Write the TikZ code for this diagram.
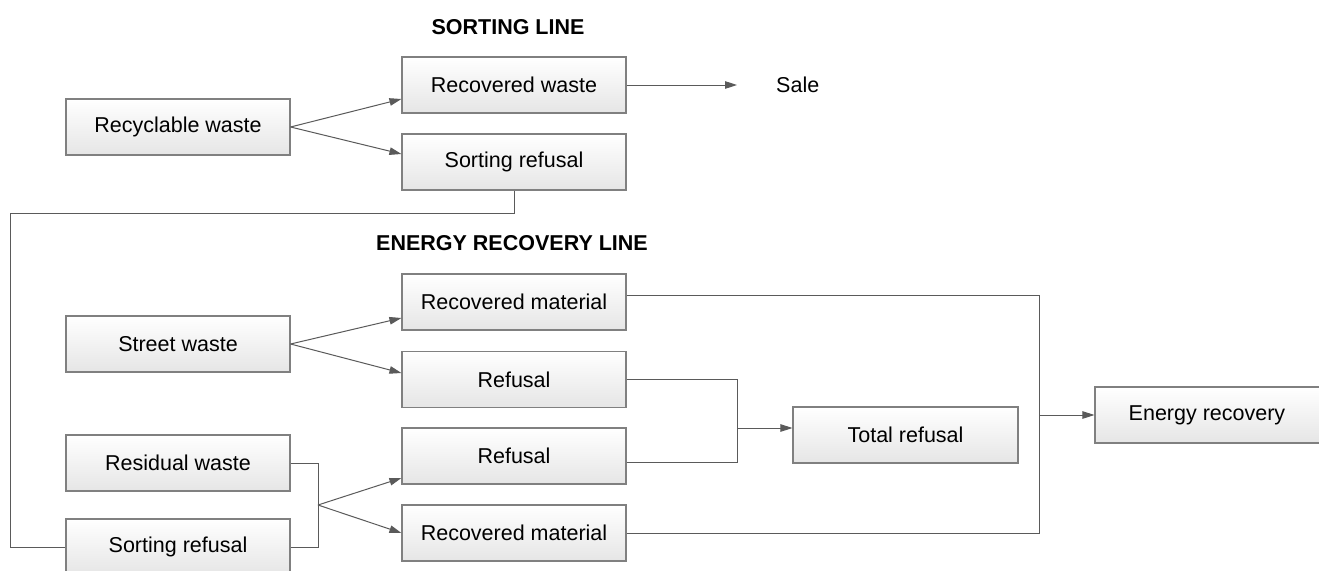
\documentclass[tikz,border=0pt]{standalone}
\usepackage{fontspec}
\setmainfont{Liberation Sans}
\usetikzlibrary{arrows.meta}
\definecolor{boxline}{HTML}{808080}
\definecolor{conn}{HTML}{5A5A5A}
\begin{document}
\begin{tikzpicture}[x=1pt,y=-1pt,
  font=\fontsize{21.5}{25}\selectfont,
  box/.style={draw=boxline, line width=1.1pt, top color=white, bottom color=black!10,
    minimum width=224pt, minimum height=56pt, inner sep=0pt},
  ttl/.style={font=\fontsize{21.5}{25}\selectfont\bfseries, inner sep=0pt},
  conline/.style={draw=conn, line width=1pt},
  arr/.style={conline, -{Triangle[length=12pt,width=7.5pt]}}]
\useasboundingbox (0,0) rectangle (1319,570);
\clip (0,0) rectangle (1319,570);
\fill[white] (0,0) rectangle (1319,570);

\node[ttl] (t1) at (508,27) {SORTING LINE};
\node[ttl] (t2) at (512,243) {ENERGY RECOVERY LINE};

\node[box] (rw)  at (178,127) {Recyclable waste};
\node[box] (rcw) at (514,85) {Recovered waste};
\node[box] (sr1) at (514,162) {Sorting refusal};
\node[inner sep=0pt, anchor=west] (sale) at (776,85) {Sale};

\node[box] (rm1) at (514,302) {Recovered material};
\node[box] (sw)  at (178,344) {Street waste};
\node[box] (rf1) at (514,379.5) {Refusal};
\node[box] (rsw) at (178,463) {Residual waste};
\node[box] (rf2) at (514,456) {Refusal};
\node[box] (rm2) at (514,533) {Recovered material};
\node[box] (sr2) at (178,547) {Sorting refusal};
\node[box, minimum width=225pt] (tr) at (905.5,435) {Total refusal};
\node[box, minimum width=228pt] (er) at (1209,415) {\hspace*{-4pt}Energy recovery};

\coordinate (c1) at (10,213);
\coordinate (j) at (318,505);
\coordinate (k) at (737,428);
\coordinate (m) at (1039,415);

\draw[arr] (rw.east) -- ([yshift=-14pt]rcw.west);
\draw[arr] (rw.east) -- ([yshift=8pt]sr1.west);
\draw[arr, shorten >=39pt] (rcw.east) -- (sale.west);

\draw[conline] (sr1.south) |- (c1) |- (sr2.west);

\draw[arr] (sw.east) -- ([yshift=-16pt]rm1.west);
\draw[arr] (sw.east) -- ([yshift=6.5pt]rf1.west);

\draw[conline] (rsw.east) -| (j);
\draw[conline] (sr2.east) -| (j);
\draw[arr] (j) -- ([yshift=-22pt]rf2.west);
\draw[arr] (j) -- (rm2.west);

\draw[conline] (rf1.east) -| (k);
\draw[conline] ([yshift=-6pt]rf2.east) -| (k);
\draw[arr] (k) -- ([yshift=7pt]tr.west);

\draw[conline] ([yshift=7pt]rm1.east) -| (m);
\draw[conline] (rm2.east) -| (m);
\draw[arr] (m) -- (er.west);
\end{tikzpicture}
\end{document}
